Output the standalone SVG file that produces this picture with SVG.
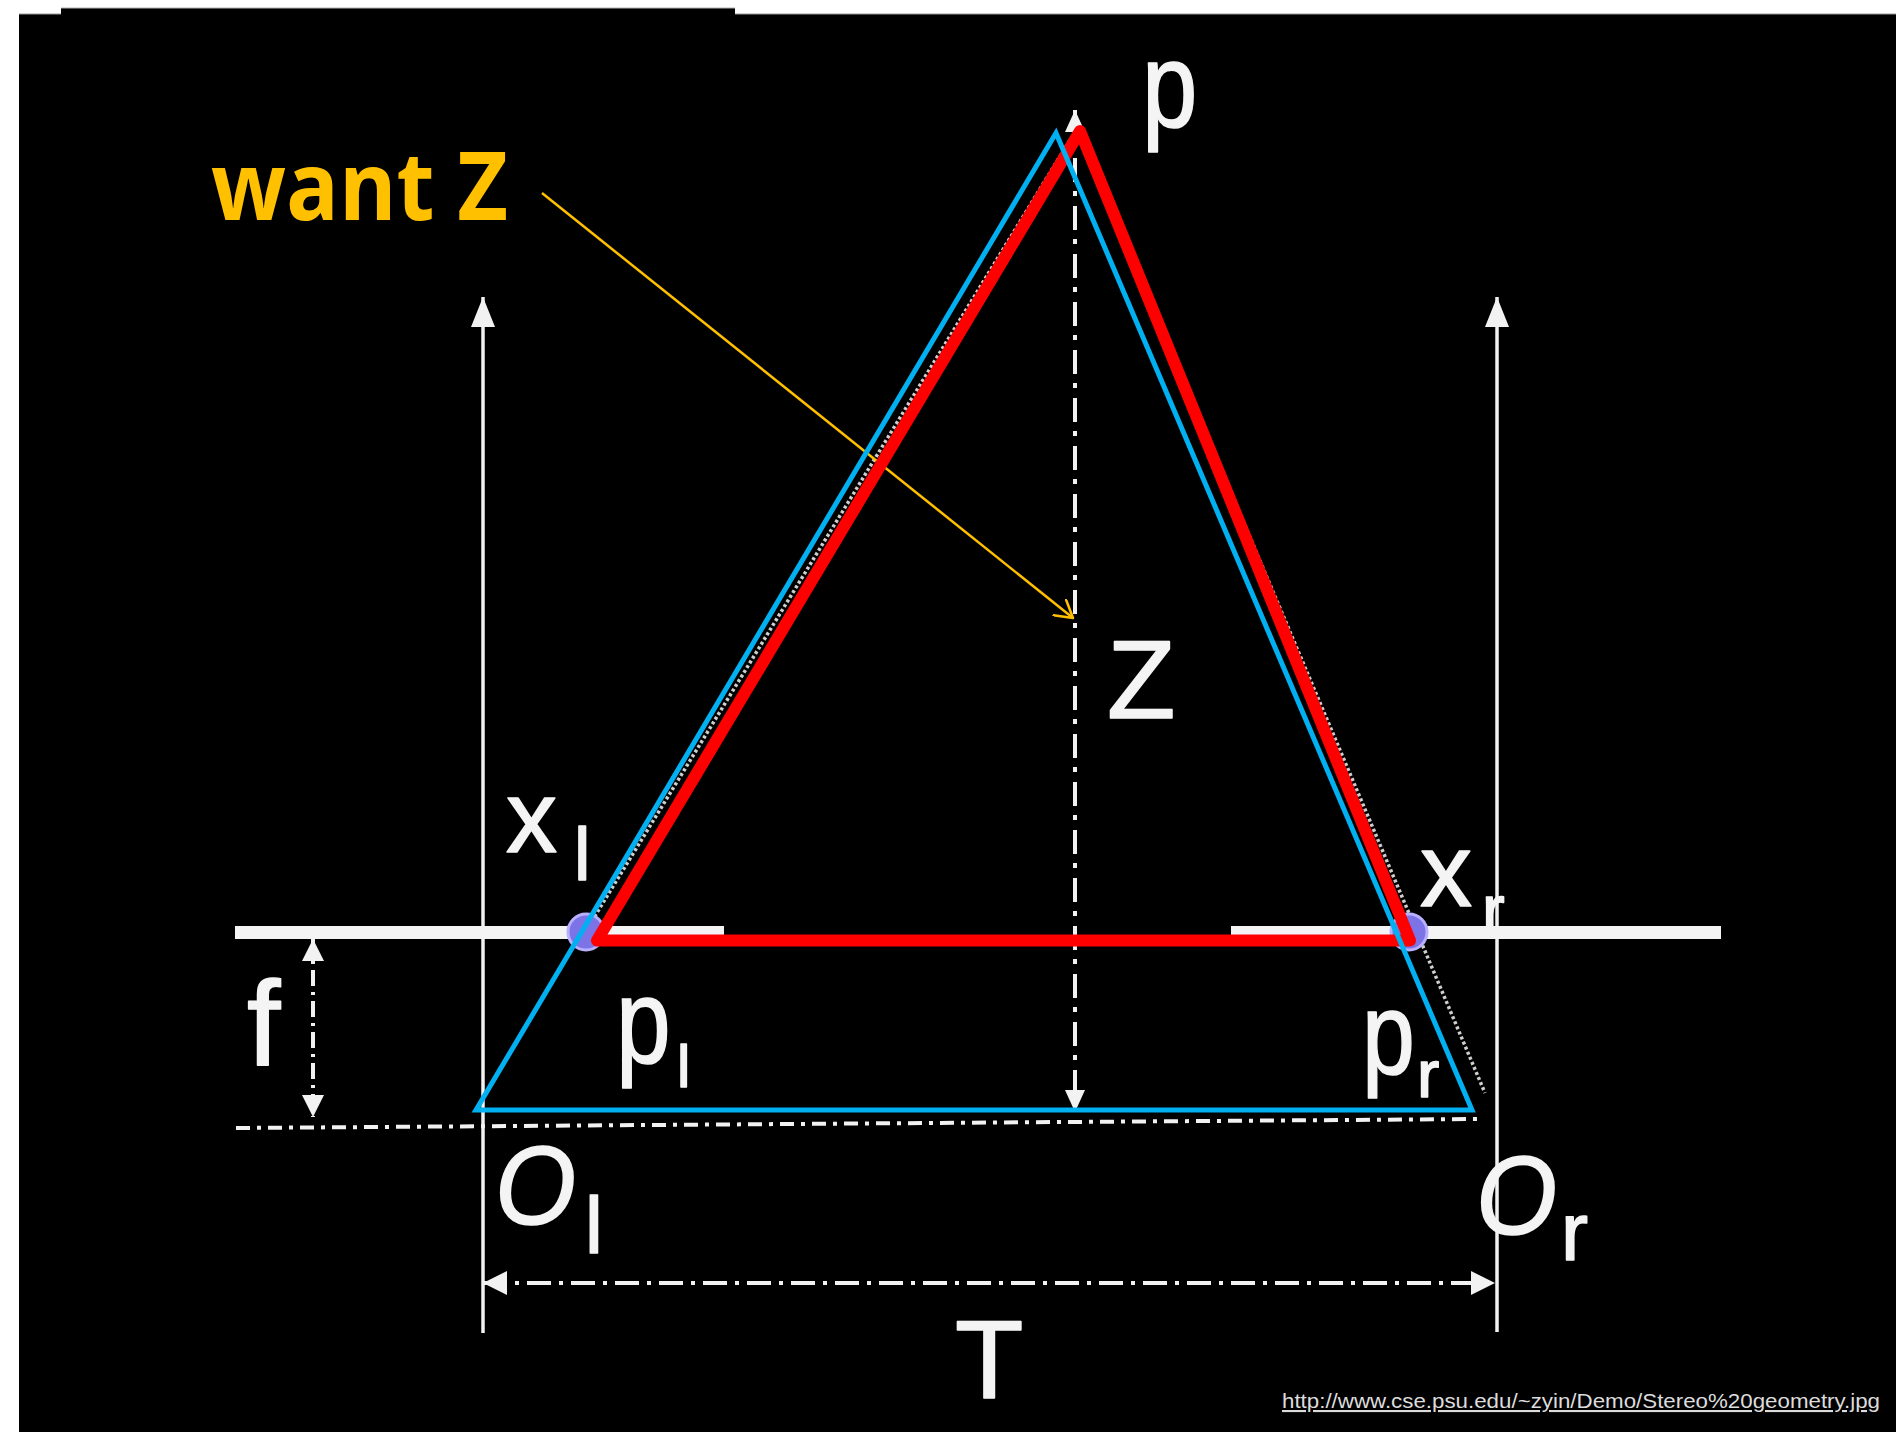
<svg xmlns="http://www.w3.org/2000/svg" width="1896" height="1432" viewBox="0 0 1896 1432">
<style>
.lbl{font-family:"Liberation Sans",Arial,sans-serif;fill:#f4f4f4;stroke:#f4f4f4;stroke-width:1.6;stroke-linejoin:round}
.it{font-style:italic}
.ax{stroke:#f2f2f2;stroke-width:3.5;fill:none}
.dd{stroke:#f2f2f2;fill:none;stroke-width:4}
.dot{stroke:#cfcfcf;stroke-width:3.5;fill:none;stroke-dasharray:3 2.5}
</style>
<defs>
<marker id="mAxis" markerUnits="userSpaceOnUse" markerWidth="30" markerHeight="24" refX="30" refY="12" orient="auto">
<path d="M0,0 L30,12 L0,24 z" fill="#f2f2f2"/>
</marker>
<marker id="mDim" markerUnits="userSpaceOnUse" markerWidth="22" markerHeight="22" refX="22" refY="11" orient="auto-start-reverse">
<path d="M0,0 L22,11 L0,22 z" fill="#f2f2f2"/>
</marker>
<marker id="mT" markerUnits="userSpaceOnUse" markerWidth="24" markerHeight="24" refX="24" refY="12" orient="auto-start-reverse">
<path d="M0,0 L24,12 L0,24 z" fill="#f2f2f2"/>
</marker>
<marker id="mZ" markerUnits="userSpaceOnUse" markerWidth="22" markerHeight="20" refX="22" refY="10" orient="auto-start-reverse">
<path d="M0,0 L22,10 L0,20 z" fill="#f2f2f2"/>
</marker>
<marker id="mY" markerUnits="userSpaceOnUse" markerWidth="22" markerHeight="22" refX="18" refY="11" orient="auto">
<path d="M1,1 L18,11 L1,21" fill="none" stroke="#ffc000" stroke-width="2.5" stroke-linecap="round" stroke-linejoin="round"/>
</marker>
</defs>

<rect x="0" y="0" width="1896" height="1432" fill="#ffffff"/>
<rect x="19" y="14" width="1877" height="1418" fill="#000000"/>
<rect x="61" y="8" width="674" height="7" fill="#000000"/>
<path d="M19,14 H61 M735,14 H1896" stroke="#9a9a9a" stroke-width="1.2"/>
<path d="M61,8 H735" stroke="#b0b0b0" stroke-width="1"/>

<g id="connectors">
  <line class="ax" x1="483" y1="1333" x2="483" y2="297" marker-end="url(#mAxis)"/>
  <line class="ax" x1="1497" y1="1332" x2="1497" y2="297" marker-end="url(#mAxis)"/>
  <rect x="235" y="926" width="489" height="13" fill="#f4f4f4"/>
  <rect x="1231" y="926" width="490" height="13" fill="#f4f4f4"/>
  <line class="dd" x1="236" y1="1128" x2="1481" y2="1119" stroke-dasharray="14 7 4 7"/>
  <line class="dd" x1="1075" y1="110" x2="1075" y2="1112" stroke-dasharray="24 9 5 10" marker-start="url(#mZ)" marker-end="url(#mZ)"/>
  <line class="dd" x1="313" y1="939" x2="313" y2="1117" stroke-width="3" stroke-dasharray="16 6 3 6" marker-start="url(#mDim)" marker-end="url(#mDim)"/>
  <line class="dd" x1="483" y1="1283" x2="1495" y2="1283" stroke-dasharray="24 8 4 8" marker-start="url(#mT)" marker-end="url(#mT)"/>
  <line class="dot" x1="1070" y1="140" x2="590" y2="924"/>
  <line class="dot" x1="1082" y1="140" x2="1485" y2="1093"/>
  <line x1="542" y1="193" x2="1073" y2="618" stroke="#ffc000" stroke-width="2.5" marker-end="url(#mY)"/>
</g>

<g id="point-xl">
  <circle cx="586" cy="932" r="18" fill="#7b73e6" stroke="#b8b0ff" stroke-width="3"/>
</g>
<g id="point-xr">
  <circle cx="1409" cy="932" r="18" fill="#7b73e6" stroke="#b8b0ff" stroke-width="3"/>
</g>

<g id="red-triangle">
  <polygon points="597,940.5 1410,940.5 1080,131" fill="none" stroke="#ff0000" stroke-width="12" stroke-linejoin="round"/>
</g>
<g id="blue-triangle">
  <polygon points="476,1110 1472,1110 1056,133" fill="none" stroke="#00b0f0" stroke-width="5" stroke-linejoin="miter"/>
</g>

<g id="label-p"><text class="lbl" transform="translate(1142,127) scale(0.83,1)" font-size="120">p</text></g>
<g id="label-Z"><text class="lbl" x="1107" y="718" font-size="112">Z</text></g>
<g id="label-xl"><text class="lbl" x="506" y="852" font-size="102">x</text><text class="lbl" x="574" y="880" font-size="74">l</text></g>
<g id="label-xr"><text class="lbl" x="1420" y="906" font-size="104">x</text><text class="lbl" x="1482" y="933" font-size="68">r</text></g>
<g id="label-pl"><text class="lbl" transform="translate(616,1063) scale(0.82,1)" font-size="120">p</text><text class="lbl" x="677" y="1087" font-size="60">l</text></g>
<g id="label-pr"><text class="lbl" transform="translate(1362,1074) scale(0.82,1)" font-size="116">p</text><text class="lbl" x="1417" y="1097" font-size="67">r</text></g>
<g id="label-f"><text class="lbl" x="247" y="1065" font-size="120">f</text></g>
<g id="label-Ol"><text class="lbl it" transform="translate(495,1224) scale(0.93,1)" font-size="112">O</text><text class="lbl" x="585" y="1253" font-size="80">l</text></g>
<g id="label-Or"><text class="lbl it" transform="translate(1476,1234) scale(0.93,1)" font-size="112">O</text><text class="lbl" x="1561" y="1260" font-size="81">r</text></g>
<g id="label-T"><text class="lbl" x="955" y="1398" font-size="112">T</text></g>

<g id="label-wantZ"><text x="211" y="220" font-family="'Open Sans','Noto Sans',sans-serif" font-weight="bold" font-size="95" fill="#ffc000" textLength="297" lengthAdjust="spacingAndGlyphs">want Z</text></g>

<g id="source-url"><text x="1282" y="1408" font-family="'Liberation Sans',Arial,sans-serif" font-size="21" fill="#dcdcdc" text-decoration="underline" textLength="598" lengthAdjust="spacingAndGlyphs">http://www.cse.psu.edu/~zyin/Demo/Stereo%20geometry.jpg</text></g>
</svg>
